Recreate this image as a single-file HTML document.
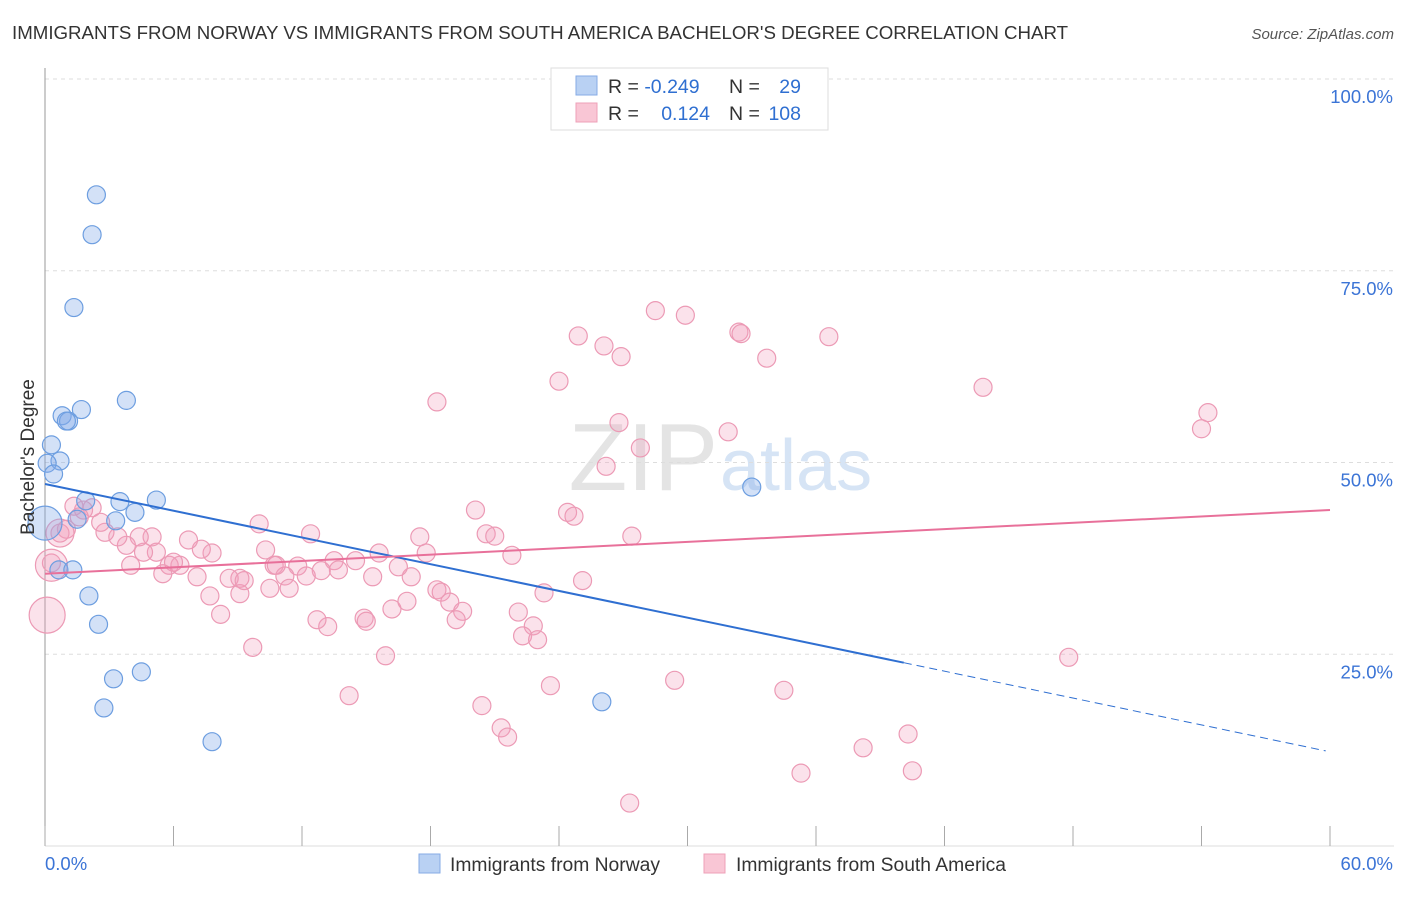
<!DOCTYPE html>
<html><head><meta charset="utf-8"><style>
body{margin:0;background:#fff;font-family:"Liberation Sans",sans-serif}
svg text{font-family:"Liberation Sans",sans-serif}
</style></head><body>
<svg id="chart" width="1406" height="892" xmlns="http://www.w3.org/2000/svg">
<text x="12" y="39" font-size="18.7" fill="#333">IMMIGRANTS FROM NORWAY VS IMMIGRANTS FROM SOUTH AMERICA BACHELOR'S DEGREE CORRELATION CHART</text>
<text x="1394" y="39" font-size="15" fill="#555" text-anchor="end" font-style="italic">Source: ZipAtlas.com</text>
<text x="718" y="490" font-size="96" fill="#e4e4e4" text-anchor="end" font-family="Liberation Serif">ZIP</text>
<text x="720" y="490" font-size="72" fill="#d6e4f5">atlas</text>
<g id="grid"></g><g id="axes"></g><g id="marks"></g><g id="trends"></g>
<text transform="translate(34,457) rotate(-90)" font-size="19" fill="#333" text-anchor="middle">Bachelor's Degree</text>
<g>
<rect x="551" y="68" width="277" height="62" fill="#fff" stroke="#ddd"/>
<rect x="576" y="76" width="21" height="19" fill="#b9d1f3" stroke="#86abe6"/>
<rect x="576" y="103" width="21" height="19" fill="#f9c6d5" stroke="#eea0b8"/>
<text x="608" y="93" font-size="19.5" fill="#333">R = <tspan fill="#2f6fd1">-0.249</tspan></text>
<text x="729" y="93" font-size="19.5" fill="#333">N = </text><text x="801" y="93" font-size="19.5" fill="#2f6fd1" text-anchor="end">29</text>
<text x="608" y="120" font-size="19.5" fill="#333">R = </text><text x="710" y="120" font-size="19.5" fill="#2f6fd1" text-anchor="end">0.124</text>
<text x="729" y="120" font-size="19.5" fill="#333">N = </text><text x="801" y="120" font-size="19.5" fill="#2f6fd1" text-anchor="end">108</text>
</g>
<g>
<rect x="419" y="854" width="21" height="19" fill="#b9d1f3" stroke="#86abe6"/>
<text x="450" y="871" font-size="19.3" fill="#333">Immigrants from Norway</text>
<rect x="704" y="854" width="21" height="19" fill="#f9c6d5" stroke="#eea0b8"/>
<text x="736" y="871" font-size="19.3" fill="#333">Immigrants from South America</text>
</g>
</svg>
<script>
const xTicks=[0,6,12,18,24,30,36,42,48,54,60];
const yTicks=[25,50,75,100];
const yTickLabels=["25.0%","50.0%","75.0%","100.0%"];
const xLabels=["0.0%","60.0%"];
const norwayX=[2.4,2.2,1.35,3.8,1.7,0.8,1.1,1.0,0.3,0.7,0.1,0.4,1.9,5.2,3.5,4.2,1.5,3.3,0,0.65,1.3,2.05,2.5,3.2,4.5,2.75,7.8,33.0,26.0];
const norwayY=[84.9,79.7,70.2,58.1,56.9,56.1,55.4,55.4,52.3,50.2,49.9,48.5,45.0,45.1,44.9,43.5,42.6,42.4,42.1,36.0,36.0,32.6,28.9,21.8,22.7,18.0,13.6,46.8,18.8];
const norwayR=[9,9,9,9,9,9,9,9,9,9,9,9,9,9,9,9,9,9,17,9,9,9,9,9,9,9,9,9,9];
const saX=[28.5,29.9,24.9,26.1,26.9,32.4,32.5,36.6,33.7,24.0,18.3,43.8,54.3,54.0,26.8,31.9,27.8,26.2,24.4,24.7,20.1,20.6,21.0,21.8,27.4,10.0,12.4,17.5,25.1,23.3,22.1,22.8,22.3,23.0,47.8,29.4,23.6,34.5,14.2,20.4,21.3,21.6,38.2,40.3,35.3,40.5,27.3,9.7,8.2,7.7,9.1,13.2,12.7,14.9,15.0,16.2,15.9,16.9,18.3,18.5,18.9,19.5,19.2,15.3,17.1,17.8,16.5,14.5,15.6,13.5,13.7,12.9,11.8,10.7,11.2,11.4,10.5,9.1,8.6,9.3,7.8,7.3,6.7,7.1,6.3,5.8,6.0,5.5,5.2,5.0,4.6,4.4,4.0,3.8,3.4,2.8,2.6,2.2,1.8,1.35,1.6,1.0,0.7,0.3,10.3,10.8,12.2];
const saY=[69.8,69.2,66.5,65.2,63.8,67.0,66.8,66.4,63.6,60.6,57.9,59.8,56.5,54.4,55.2,54.0,51.9,49.5,43.5,43.0,43.8,40.7,40.4,37.9,40.4,42.0,40.7,40.3,34.6,33.0,30.5,28.7,27.4,26.9,24.6,21.6,20.9,20.3,19.6,18.3,15.4,14.2,12.8,14.6,9.5,9.8,5.6,25.9,30.2,32.6,32.9,28.6,29.5,29.7,29.3,30.9,24.8,31.9,33.4,33.1,31.8,30.6,29.5,35.1,35.1,38.2,36.4,37.2,38.2,37.2,36.0,35.9,36.5,36.6,35.2,33.6,33.6,34.9,34.9,34.6,38.2,38.7,39.9,35.1,36.6,36.6,37.0,35.5,38.3,40.3,38.3,40.3,36.6,39.2,40.3,40.9,42.2,44.1,43.8,44.3,42.9,41.3,40.8,36.9,38.6,36.6,35.2];
const bigSa=[[0.1,30.1,18],[0.3,36.6,16],[0.7,40.8,14]];
const norwayTrend=[[0,47.2],[40.1,23.9],[59.8,12.4]];
const saTrend=[[0,35.5],[60,43.8]];
const NS="http://www.w3.org/2000/svg";
const X=v=>45+v/60*1285, Y=v=>846-v/100*767;
function mk(t,a,p){const e=document.createElementNS(NS,t);for(const k in a)e.setAttribute(k,a[k]);document.getElementById(p).appendChild(e);return e;}
yTicks.forEach((t,i)=>{
 const l=mk('line',{x1:45,x2:1394,y1:Y(t),y2:Y(t),stroke:'#ddd','stroke-dasharray':'4,4'},'grid');
 
 
 const tx=mk('text',{x:1393,y:Y(t)+24,'font-size':18.5,fill:'#3b74d6','text-anchor':'end'},'axes');tx.textContent=yTickLabels[i];
 
 
});
const ya=mk('line',{x1:45,x2:45,y1:68,y2:846,stroke:'#999'},'axes');


const xa=mk('line',{x1:45,x2:1394,y1:846,y2:846,stroke:'#ddd'},'axes');


xTicks.forEach(t=>{const l=mk('line',{x1:X(t),x2:X(t),y1:826,y2:846,stroke:'#aaa'},'axes');
 
 });
const xl0=mk('text',{x:45,y:870,'font-size':18.5,fill:'#3b74d6'},'axes');xl0.textContent=xLabels[0];


const xl1=mk('text',{x:1393,y:870,'font-size':18.5,fill:'#3b74d6','text-anchor':'end'},'axes');xl1.textContent=xLabels[1];


saX.forEach((v,i)=>{const c=mk('circle',{cx:X(v),cy:Y(saY[i]),r:9,fill:'rgba(242,160,188,0.3)',stroke:'#ec9ab5','stroke-width':1.2},'marks');
 
 });
bigSa.forEach(b=>{const c=mk('circle',{cx:X(b[0]),cy:Y(b[1]),r:b[2],fill:'rgba(242,160,188,0.3)',stroke:'#ec9ab5','stroke-width':1.2},'marks');
 
 });
norwayX.forEach((v,i)=>{const c=mk('circle',{cx:X(v),cy:Y(norwayY[i]),r:norwayR[i],fill:'rgba(130,170,232,0.35)',stroke:'#6d9ee0','stroke-width':1.2},'marks');
 
 });
const t1=mk('line',{x1:X(norwayTrend[0][0]),y1:Y(norwayTrend[0][1]),x2:X(norwayTrend[1][0]),y2:Y(norwayTrend[1][1]),stroke:'#2f6fd1','stroke-width':2},'trends');


const t2=mk('line',{x1:X(norwayTrend[1][0]),y1:Y(norwayTrend[1][1]),x2:X(norwayTrend[2][0]),y2:Y(norwayTrend[2][1]),stroke:'#2f6fd1','stroke-width':1,'stroke-dasharray':'8,5'},'trends');


const t3=mk('line',{x1:X(saTrend[0][0]),y1:Y(saTrend[0][1]),x2:X(saTrend[1][0]),y2:Y(saTrend[1][1]),stroke:'#e8709a','stroke-width':2},'trends');


</script>
</body></html>
